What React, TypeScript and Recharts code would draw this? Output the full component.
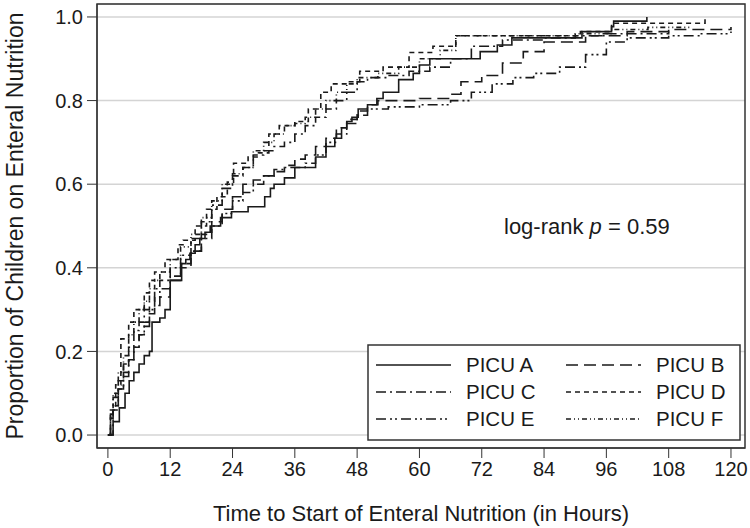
import React from 'react';
import {
  LineChart,
  Line,
  XAxis,
  YAxis,
  CartesianGrid,
  ReferenceArea,
  Legend,
  Customized,
} from 'recharts';

// Kaplan-Meier style cumulative proportions
const tA = [0, 1, 2.2, 3.3, 4.1, 5, 6, 7, 8, 8.5, 10, 11, 12, 14.2, 15, 15.8, 16.8, 17.7, 18.7, 19.7, 21.7, 23.8, 27, 30.2, 31.3, 32, 34, 36, 40, 42, 43.7, 45, 46, 47, 48.2, 50, 51.8, 53, 56, 58.8, 60, 62, 71.7, 75, 77.8, 91.3, 97, 97.4, 103.8];
const pA = [0, 0.032, 0.065, 0.1, 0.13, 0.15, 0.17, 0.19, 0.2, 0.27, 0.28, 0.3, 0.37, 0.41, 0.42, 0.435, 0.455, 0.47, 0.485, 0.5, 0.52, 0.534, 0.546, 0.57, 0.59, 0.6, 0.615, 0.64, 0.665, 0.69, 0.71, 0.735, 0.75, 0.76, 0.78, 0.79, 0.805, 0.82, 0.85, 0.865, 0.885, 0.9, 0.917, 0.933, 0.95, 0.965, 0.977, 0.99, 1.0];

const tB = [0, 0.5, 1, 2, 3, 4, 5, 6, 7, 8, 9, 10, 12, 14, 16, 18, 20, 22, 24, 26, 28, 30, 32, 34, 36, 38, 40, 42, 44, 46, 48, 50, 52, 60, 66, 68, 72, 76, 80, 84, 92, 100, 108, 120];
const pB = [0, 0.04, 0.07, 0.11, 0.14, 0.18, 0.21, 0.24, 0.26, 0.29, 0.31, 0.33, 0.37, 0.4, 0.44, 0.48, 0.51, 0.54, 0.57, 0.6, 0.61, 0.62, 0.63, 0.645, 0.66, 0.67, 0.69, 0.71, 0.735, 0.755, 0.775, 0.79, 0.8, 0.805, 0.815, 0.845, 0.86, 0.89, 0.917, 0.94, 0.955, 0.965, 0.97, 0.976];

const tC = [0, 0.5, 1, 2, 3, 4, 5, 6, 7, 8, 9, 10, 12, 14, 16, 18, 20, 22, 24, 26, 28, 30, 32, 34, 36, 38, 40, 42, 44, 46, 48, 50, 54, 58, 62, 66, 70, 76, 84, 90, 96, 104, 108];
const pC = [0, 0.05, 0.09, 0.13, 0.17, 0.21, 0.25, 0.27, 0.3, 0.32, 0.35, 0.37, 0.4, 0.43, 0.47, 0.51, 0.55, 0.59, 0.62, 0.64, 0.67, 0.68, 0.69, 0.7, 0.72, 0.74, 0.76, 0.78, 0.8, 0.82, 0.845, 0.855, 0.86, 0.87, 0.88, 0.9, 0.93, 0.945, 0.95, 0.955, 0.96, 0.96, 0.965];

const tD = [0, 0.5, 1.5, 2.5, 4, 5, 7, 8, 9, 11, 13.5, 14.5, 16.8, 19, 21, 23, 24.2, 27, 29, 31, 33, 36, 38.6, 41, 43, 46, 48.5, 53, 58, 62.6, 67, 91, 97, 115];
const pD = [0, 0.06, 0.12, 0.23, 0.27, 0.3, 0.34, 0.37, 0.39, 0.42, 0.455, 0.466, 0.5, 0.54, 0.57, 0.605, 0.65, 0.665, 0.675, 0.72, 0.74, 0.75, 0.78, 0.82, 0.84, 0.845, 0.87, 0.88, 0.915, 0.93, 0.955, 0.965, 0.985, 1.0];

const tE = [0, 1, 2, 3, 4, 5, 6, 7, 8, 9, 10, 12, 14, 16, 18, 20, 22, 24, 26, 28, 30, 32, 34, 38, 40, 42, 44, 46, 48, 50, 54, 60, 66, 70, 74, 78, 82, 87, 92, 96, 100, 108, 114, 120];
const pE = [0, 0.06, 0.11, 0.15, 0.18, 0.21, 0.24, 0.27, 0.3, 0.33, 0.35, 0.38, 0.41, 0.44, 0.47, 0.5, 0.53, 0.56, 0.58, 0.6, 0.62, 0.635, 0.64, 0.65, 0.67, 0.7, 0.72, 0.745, 0.765, 0.78, 0.785, 0.79, 0.8, 0.82, 0.84, 0.855, 0.865, 0.88, 0.91, 0.94, 0.95, 0.955, 0.96, 0.965];

const tF = [0, 0.5, 1, 2, 3, 4, 5, 6, 7, 8, 9, 10, 12, 14, 16, 18, 20, 22, 24, 26, 28, 30, 32, 34, 36, 38, 40, 42, 44, 46, 48, 52, 56, 60, 64, 67, 80, 90, 97, 104, 112];
const pF = [0, 0.04, 0.1, 0.15, 0.19, 0.24, 0.27, 0.3, 0.32, 0.35, 0.37, 0.39, 0.42, 0.45, 0.48, 0.52, 0.56, 0.6, 0.625, 0.64, 0.68, 0.7, 0.72, 0.74, 0.745, 0.76, 0.78, 0.8, 0.82, 0.84, 0.855, 0.865, 0.88, 0.9, 0.92, 0.955, 0.955, 0.96, 0.97, 0.975, 0.98];

const groups = ['PICU A', 'PICU B', 'PICU C', 'PICU D', 'PICU E', 'PICU F'];
const xTicks = [0, 12, 24, 36, 48, 60, 72, 84, 96, 108, 120];
const yTicks = [0, 0.2, 0.4, 0.6, 0.8, 1.0];

const toRows = (t: number[], p: number[]) => t.map((x, i) => ({ t: x, p: p[i] }));

const series = [
  { name: groups[0], data: toRows(tA, pA), dash: undefined },
  { name: groups[1], data: toRows(tB, pB), dash: '12 6' },
  { name: groups[2], data: toRows(tC, pC), dash: '10 4 2 4' },
  { name: groups[3], data: toRows(tD, pD), dash: '5 4' },
  { name: groups[4], data: toRows(tE, pE), dash: '10 4 2 3 2 4' },
  { name: groups[5], data: toRows(tF, pF), dash: '5 3 1 3 1 3' },
];

const FONT = "'Liberation Sans', Arial, Helvetica, sans-serif";
const INK = '#1a1a1a';

const LegendBox = () => {
  const rows = [0, 1, 2];
  return (
    <svg width={374} height={97} style={{ display: 'block' }}>
      <rect x={1} y={1} width={372} height={95} fill="#fff" stroke="#333" strokeWidth={1.5} />
      {series.map((s, i) => {
        const col = i % 2;
        const row = rows[Math.floor(i / 2)];
        const y = 21 + row * 27;
        const lx = col === 0 ? 9 : 199;
        return (
          <g key={s.name}>
            <line x1={lx} x2={lx + 75} y1={y} y2={y} stroke={INK} strokeWidth={1.6} strokeDasharray={s.dash} />
            <text x={lx + 90} y={y + 7} fontSize={20.5} fontFamily={FONT} fill={INK}>
              {s.name}
            </text>
          </g>
        );
      })}
    </svg>
  );
};

const Note = () => (
  <text x={504} y={234} fontSize={22} fontFamily={FONT} fill={INK}>
    log-rank <tspan fontStyle="italic">p</tspan> = 0.59
  </text>
);

export default function App() {
  return (
    <div style={{ position: 'absolute', left: 0, top: 0, background: '#fff' }}>
      <LineChart
        width={750}
        height={528}
        margin={{ top: 4, right: 5, left: 0, bottom: 0 }}
        style={{ fontFamily: FONT }}
      >
        <CartesianGrid vertical={false} stroke="#d4d4d4" strokeWidth={1.5} />
        <XAxis
          dataKey="t"
          type="number"
          domain={[-2.1, 122.7]}
          ticks={xTicks}
          allowDataOverflow
          height={80}
          tickSize={10}
          tickMargin={4}
          stroke="#333"
          tick={{ fill: INK, fontSize: 20 }}
          label={{
            value: 'Time to Start of Enteral Nutrition (in Hours)',
            position: 'insideBottom',
            offset: 7,
            fill: INK,
            fontSize: 22,
          }}
        />
        <YAxis
          type="number"
          domain={[-0.031, 1.031]}
          ticks={yTicks}
          allowDataOverflow
          width={97}
          tickSize={10}
          tickMargin={4}
          stroke="#333"
          tickFormatter={(v: number) => v.toFixed(1)}
          tick={{ fill: INK, fontSize: 20 }}
          label={{
            value: 'Proportion of Children on Enteral Nutrition',
            angle: -90,
            position: 'insideLeft',
            offset: 15,
            fill: INK,
            fontSize: 23,
            style: { textAnchor: 'middle' },
          }}
        />
        <ReferenceArea
          x1={-2.1}
          x2={122.7}
          y1={-0.031}
          y2={1.031}
          fill="none"
          stroke="#333"
          strokeWidth={1.5}
        />
        {series.map((s) => (
          <Line
            key={s.name}
            name={s.name}
            data={s.data}
            dataKey="p"
            type="stepAfter"
            stroke={INK}
            strokeWidth={1.6}
            strokeDasharray={s.dash}
            dot={false}
            activeDot={false}
            isAnimationActive={false}
          />
        ))}
        <Customized component={Note} />
        <Legend
          layout="horizontal"
          verticalAlign="middle"
          align="center"
          content={() => <LegendBox />}
          wrapperStyle={{ left: 367, top: 344, width: 374, height: 97 }}
        />
      </LineChart>
    </div>
  );
}
